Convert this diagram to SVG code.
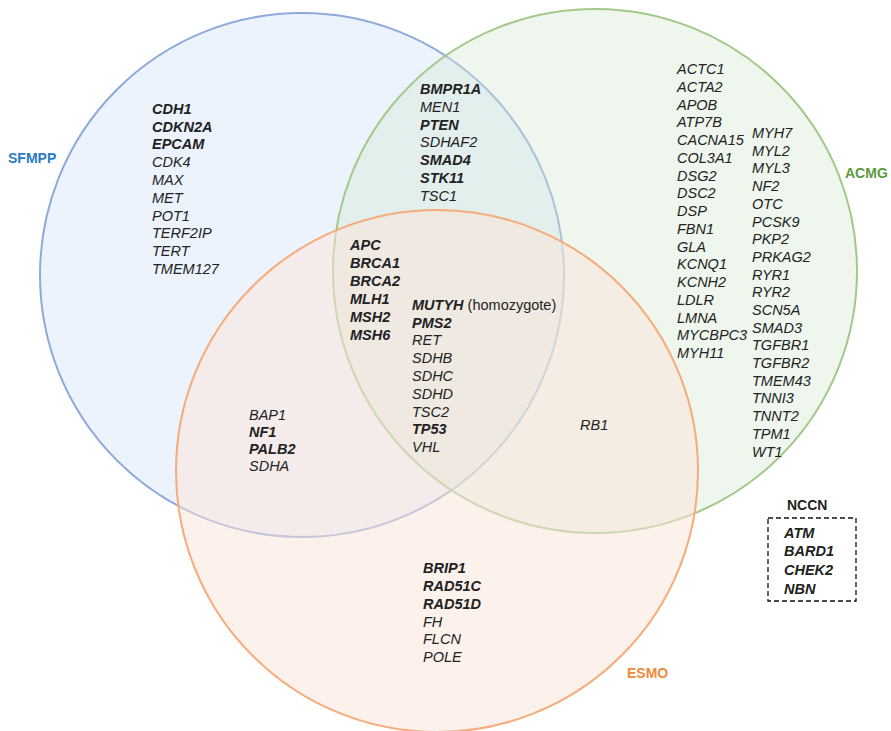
<svg xmlns="http://www.w3.org/2000/svg" width="891" height="731" viewBox="0 0 891 731">
<style>
text{font-family:"Liberation Sans",Arial,sans-serif;font-size:14.5px;fill:#222}
.g{font-style:italic}
.b{font-style:italic;font-weight:bold}
.lbl{font-weight:bold;font-size:14px}
</style>
<rect width="891" height="731" fill="#fff"/>
<g id="sets">
<circle id="SFMPP-set" cx="302" cy="275" r="262" fill="#dae8fc" fill-opacity="0.5" stroke="#8ea9db" stroke-width="2"/>
<circle id="ACMG-set" cx="595" cy="271" r="262" fill="#d5e8d4" fill-opacity="0.4" stroke="#a3c98a" stroke-width="2"/>
<circle id="ESMO-set" cx="437" cy="471" r="261" fill="#fbe3d8" fill-opacity="0.5" stroke="#f5ac7a" stroke-width="2"/>
</g>
<g id="labels">
<text class="lbl" x="8" y="163" style="fill:#2a7bc4">SFMPP</text>
<text class="lbl" x="845" y="178" style="fill:#5b9a3c">ACMG</text>
<text class="lbl" x="627" y="678" style="fill:#f0893c">ESMO</text>
<text class="lbl" x="787" y="510" style="fill:#222">NCCN</text>
</g>
<g id="sfmpp-only">
<text class="b" x="152" y="114">CDH1</text>
<text class="b" x="152" y="132">CDKN2A</text>
<text class="b" x="152" y="149">EPCAM</text>
<text class="g" x="152" y="167">CDK4</text>
<text class="g" x="152" y="185">MAX</text>
<text class="g" x="152" y="203">MET</text>
<text class="g" x="152" y="221">POT1</text>
<text class="g" x="152" y="238">TERF2IP</text>
<text class="g" x="152" y="256">TERT</text>
<text class="g" x="152" y="274">TMEM127</text>
</g>
<g id="sfmpp-acmg">
<text class="b" x="420" y="94">BMPR1A</text>
<text class="g" x="420" y="112">MEN1</text>
<text class="b" x="420" y="130">PTEN</text>
<text class="g" x="420" y="147">SDHAF2</text>
<text class="b" x="420" y="165">SMAD4</text>
<text class="b" x="420" y="183">STK11</text>
<text class="g" x="420" y="201">TSC1</text>
</g>
<g id="all-three">
<text class="b" x="350" y="250">APC</text>
<text class="b" x="350" y="268">BRCA1</text>
<text class="b" x="350" y="286">BRCA2</text>
<text class="b" x="350" y="304">MLH1</text>
<text class="b" x="350" y="322">MSH2</text>
<text class="b" x="350" y="340">MSH6</text>
<text x="412" y="310"><tspan class="b">MUTYH</tspan> (homozygote)</text>
<text class="b" x="412" y="328">PMS2</text>
<text class="g" x="412" y="345">RET</text>
<text class="g" x="412" y="363">SDHB</text>
<text class="g" x="412" y="381">SDHC</text>
<text class="g" x="412" y="399">SDHD</text>
<text class="g" x="412" y="417">TSC2</text>
<text class="b" x="412" y="434">TP53</text>
<text class="g" x="412" y="452">VHL</text>
</g>
<g id="acmg-only">
<text class="g" x="677" y="74">ACTC1</text>
<text class="g" x="677" y="92">ACTA2</text>
<text class="g" x="677" y="110">APOB</text>
<text class="g" x="677" y="127">ATP7B</text>
<text class="g" x="677" y="145">CACNA15</text>
<text class="g" x="677" y="163">COL3A1</text>
<text class="g" x="677" y="181">DSG2</text>
<text class="g" x="677" y="198">DSC2</text>
<text class="g" x="677" y="216">DSP</text>
<text class="g" x="677" y="234">FBN1</text>
<text class="g" x="677" y="252">GLA</text>
<text class="g" x="677" y="269">KCNQ1</text>
<text class="g" x="677" y="287">KCNH2</text>
<text class="g" x="677" y="305">LDLR</text>
<text class="g" x="677" y="323">LMNA</text>
<text class="g" x="677" y="340">MYCBPC3</text>
<text class="g" x="677" y="358">MYH11</text>
<text class="g" x="752" y="138">MYH7</text>
<text class="g" x="752" y="156">MYL2</text>
<text class="g" x="752" y="173">MYL3</text>
<text class="g" x="752" y="191">NF2</text>
<text class="g" x="752" y="209">OTC</text>
<text class="g" x="752" y="227">PCSK9</text>
<text class="g" x="752" y="244">PKP2</text>
<text class="g" x="752" y="262">PRKAG2</text>
<text class="g" x="752" y="280">RYR1</text>
<text class="g" x="752" y="297">RYR2</text>
<text class="g" x="752" y="315">SCN5A</text>
<text class="g" x="752" y="333">SMAD3</text>
<text class="g" x="752" y="350">TGFBR1</text>
<text class="g" x="752" y="368">TGFBR2</text>
<text class="g" x="752" y="386">TMEM43</text>
<text class="g" x="752" y="403">TNNI3</text>
<text class="g" x="752" y="421">TNNT2</text>
<text class="g" x="752" y="439">TPM1</text>
<text class="g" x="752" y="457">WT1</text>
</g>
<g id="sfmpp-esmo">
<text class="g" x="249" y="420">BAP1</text>
<text class="b" x="249" y="437">NF1</text>
<text class="b" x="249" y="454">PALB2</text>
<text class="g" x="249" y="471">SDHA</text>
</g>
<g id="acmg-esmo">
<text class="g" x="580" y="430">RB1</text>
</g>
<g id="esmo-only">
<text class="b" x="423" y="573">BRIP1</text>
<text class="b" x="423" y="591">RAD51C</text>
<text class="b" x="423" y="609">RAD51D</text>
<text class="g" x="423" y="627">FH</text>
<text class="g" x="423" y="644">FLCN</text>
<text class="g" x="423" y="662">POLE</text>
</g>
<g id="nccn">
<rect x="768" y="518" width="88" height="83" fill="none" stroke="#111" stroke-width="1.3" stroke-dasharray="5 3"/>
<text class="b" x="784" y="538">ATM</text>
<text class="b" x="784" y="556">BARD1</text>
<text class="b" x="784" y="575">CHEK2</text>
<text class="b" x="784" y="594">NBN</text>
</g>
</svg>
